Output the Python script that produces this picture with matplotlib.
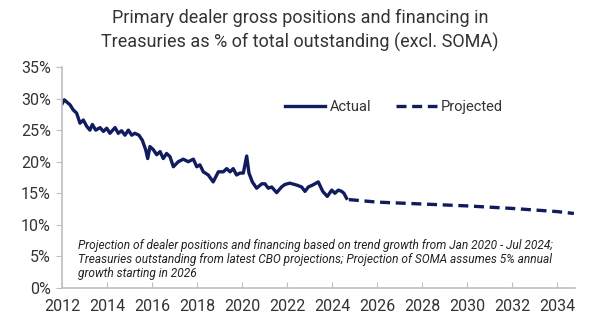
import matplotlib
matplotlib.use("Agg")
import matplotlib.pyplot as plt

plt.rcParams['font.family'] = ['Roboto', 'DejaVu Sans']

# actual series (decimal year, % of total outstanding)
actual_year = [2012.01, 2012.10, 2012.36, 2012.50, 2012.65, 2012.80, 2012.95, 2013.10,
               2013.24, 2013.35, 2013.50, 2013.69, 2013.84, 2013.99, 2014.13, 2014.36,
               2014.50, 2014.65, 2014.80, 2014.95, 2015.10, 2015.24, 2015.42, 2015.57,
               2015.72, 2015.81, 2015.91, 2016.06, 2016.21, 2016.36, 2016.50, 2016.65,
               2016.80, 2016.95, 2017.17, 2017.39, 2017.61, 2017.84, 2017.99, 2018.13,
               2018.28, 2018.50, 2018.72, 2018.95, 2019.17, 2019.32, 2019.47, 2019.61,
               2019.76, 2019.91, 2020.06, 2020.21, 2020.31, 2020.46, 2020.65, 2020.88,
               2021.02, 2021.17, 2021.32, 2021.54, 2021.76, 2021.91, 2022.13, 2022.43,
               2022.65, 2022.80, 2022.95, 2023.14, 2023.39, 2023.59, 2023.79, 2023.99,
               2024.13, 2024.28, 2024.43, 2024.53, 2024.65]
actual_val = [29.2, 29.8, 29.0, 28.2, 27.7, 26.1, 26.6, 25.6,
              25.0, 25.9, 25.0, 25.4, 24.8, 25.3, 24.5, 25.4,
              24.5, 24.9, 24.2, 25.0, 24.2, 24.5, 24.2, 23.4,
              21.9, 20.5, 22.4, 21.9, 21.1, 21.6, 20.5, 21.3,
              20.8, 19.2, 20.0, 20.4, 20.0, 20.4, 19.2, 19.5,
              18.4, 17.9, 16.8, 18.4, 18.4, 18.9, 18.4, 18.9,
              17.9, 18.2, 18.2, 20.9, 18.2, 16.8, 15.8, 16.5,
              16.5, 15.8, 16.0, 15.1, 16.0, 16.4, 16.6, 16.3,
              16.0, 15.3, 16.0, 16.3, 16.8, 15.3, 14.5, 15.5,
              15.0, 15.5, 15.3, 15.0, 14.2]

proj_year = [2024.75, 2026, 2028, 2030, 2032, 2033, 2034, 2034.75]
proj_val = [14.0, 13.6, 13.3, 13.0, 12.6, 12.35, 12.1, 11.8]

yticks = [0, 5, 10, 15, 20, 25, 30, 35]
xticks = list(range(2012, 2035, 2))

navy = '#101c5e'
grey = '#bfbfbf'
txt = '#333333'

fig = plt.figure(figsize=(6, 3.31), dpi=100)
ax = fig.add_axes([0.1033, 0.13, 0.855, 0.6676])

ax.plot(actual_year, actual_val, color=navy, lw=2.4, solid_joinstyle='round', label='Actual')
ax.plot(proj_year, proj_val, color=navy, lw=2.4, dashes=(3.0, 1.7), label='Projected')

ax.set_xlim(2012, 2034.8)
ax.set_ylim(0, 35)
ax.set_yticks(yticks)
ax.set_yticklabels([f'{v}%' for v in yticks])
ax.set_xticks(xticks)

for s in ['top', 'right']:
    ax.spines[s].set_visible(False)
for s in ['left', 'bottom']:
    ax.spines[s].set_color(grey)
    ax.spines[s].set_linewidth(1.2)

ax.tick_params(axis='y', colors=grey, labelcolor=txt, labelsize=11.5, length=4, pad=4)
ax.tick_params(axis='x', colors=grey, labelcolor=txt, labelsize=11.5, length=4,
               direction='in', pad=8)

ax.legend(loc='center', bbox_to_anchor=(0.647, 0.819), ncol=2, frameon=False,
          fontsize=10.5, handlelength=2.8, columnspacing=1.7, handletextpad=0.3,
          labelcolor=txt)

fig.text(0.5, 0.945, 'Primary dealer gross positions and financing in',
         ha='center', va='center', fontsize=13, color=txt)
fig.text(0.5, 0.873, 'Treasuries as % of total outstanding (excl. SOMA)',
         ha='center', va='center', fontsize=13, color=txt)

ax.text(0.031, 0.222,
        'Projection of dealer positions and financing based on trend growth from Jan 2020 - Jul 2024;\n'
        'Treasuries outstanding from latest CBO projections; Projection of SOMA assumes 5% annual\n'
        'growth starting in 2026',
        transform=ax.transAxes, ha='left', va='top', fontsize=8.6, style='italic',
        color='#222222', linespacing=1.1)

fig.savefig('out.png', dpi=100)
